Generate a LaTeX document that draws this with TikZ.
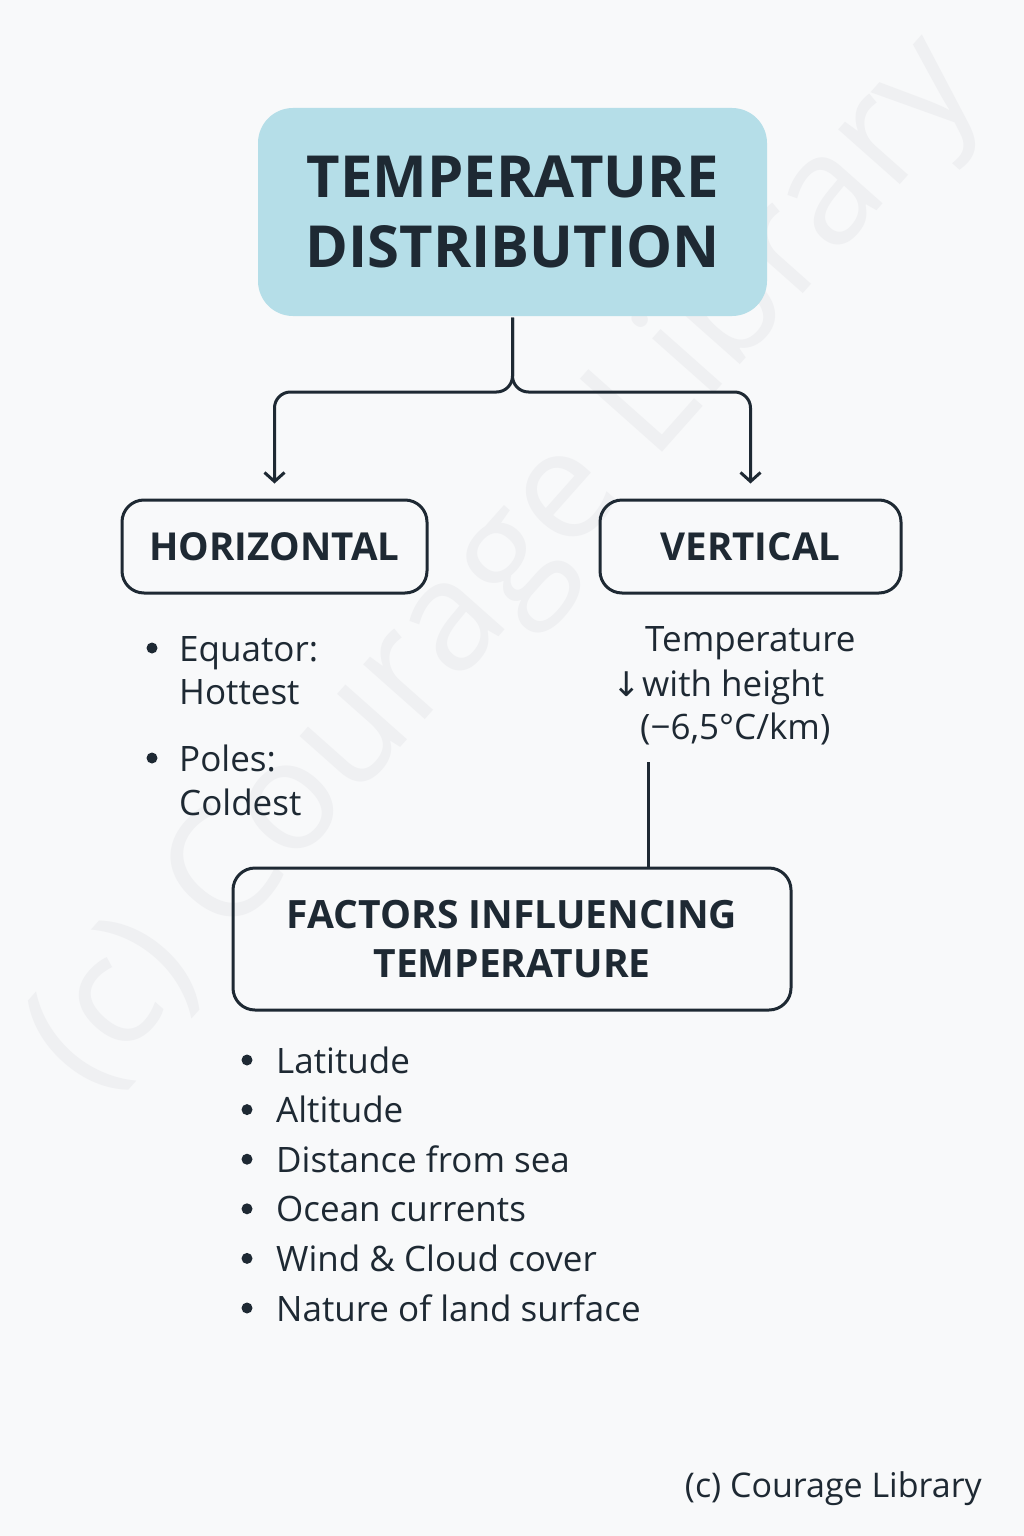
\documentclass[tikz,border=0pt]{standalone}
\usepackage{fontspec}
\setmainfont{Open Sans}
\newfontfamily\arrowfont{DejaVu Sans}
\usetikzlibrary{arrows.meta}
\definecolor{ink}{HTML}{1E2933}
\definecolor{titlefill}{HTML}{B5DEE8}
\definecolor{paper}{HTML}{F8F9FA}
\definecolor{watermark}{HTML}{EFF0F2}
\tikzset{
  box/.style={draw=ink,line width=3pt,rounded corners=22pt,align=center,text=ink,inner sep=0pt,font=\bfseries\fontsize{38.5}{46}\selectfont},
  link/.style={ink,line width=3pt,rounded corners=16pt,-{Straight Barb[length=9pt,width=20pt]}},
  item/.style={anchor=base west,text=ink,inner sep=0pt,font=\fontsize{35}{42}\selectfont},
  dot/.style={ink},
}
\begin{document}
\begin{tikzpicture}[x=1pt,y=-1pt]
		\useasboundingbox (0,0) rectangle (1024,1536);
		\fill[paper] (0,0) rectangle (1024,1536);% page background
		\node[rotate=48.4,text=watermark,font=\fontsize{154}{160}\selectfont] (Watermark) at (508,566) {(c) Courage Library};

		% boxes
		\node[box,fill=titlefill,draw=none,rounded corners=35pt,minimum width=509pt,minimum height=208pt,
		  font=\bfseries\fontsize{58}{70}\selectfont] (Title) at (512.5,212) {TEMPERATURE\\DISTRIBUTION};
		\node[box,minimum width=305pt,minimum height=93pt] (Horizontal) at (274.5,546.5) {HORIZONTAL};
		\node[box,minimum width=301pt,minimum height=93pt] (Vertical) at (750.5,546.5) {VERTICAL};
		\node[box,minimum width=558pt,minimum height=142pt,font=\bfseries\fontsize{39}{49}\selectfont] (Factors) at (512,939)
		  {FACTORS INFLUENCING\\TEMPERATURE};

		% connectors
		\coordinate (Split) at (Title.south |- 0,392);
		\draw[link,shorten >=15pt] (Title.south) -- (Split) -| (Horizontal.north);
		\draw[link,shorten >=15pt] (Title.south) -- (Split) -| (Vertical.north);
		\coordinate (LineTop) at (648,762);
		\draw[ink,line width=3pt] (LineTop) -- (LineTop |- Factors.north);

		% horizontal list
		\fill[dot] (152,648) circle (5.5pt);
		\node[item] (Equator) at (179,661) {Equator:};
		\node[item] (Hottest) at (179,704) {Hottest};
		\fill[dot] (152,758) circle (5.5pt);
		\node[item] (Poles) at (179,771) {Poles:};
		\node[item] (Coldest) at (179,815) {Coldest};

		% vertical note
		\node[item] (Temp) at (645,651) {Temperature};
		\node[item] (Arrow) at (612,696) {\arrowfont\fontsize{34}{40}\selectfont↓};
		\node[item] (Height) at (642,696) {with height};
		\node[item] (Rate) at (640,739) {(−6,5°C/km)};

		% factors list
		\foreach \txt [count=\i from 0] in {Latitude,Altitude,Distance from sea,Ocean currents,Wind \& Cloud cover,Nature of land surface}{%
		  \fill[dot] (247,1060+49.6*\i) circle (5.5pt);
		  \node[item] (Factor\i) at (276,1073+49.6*\i) {\txt};
		}

		\node[item,anchor=base east,font=\fontsize{34}{40}\selectfont] (Credit) at (982,1497) {(c) Courage Library};
	  \end{tikzpicture}
\end{document}
